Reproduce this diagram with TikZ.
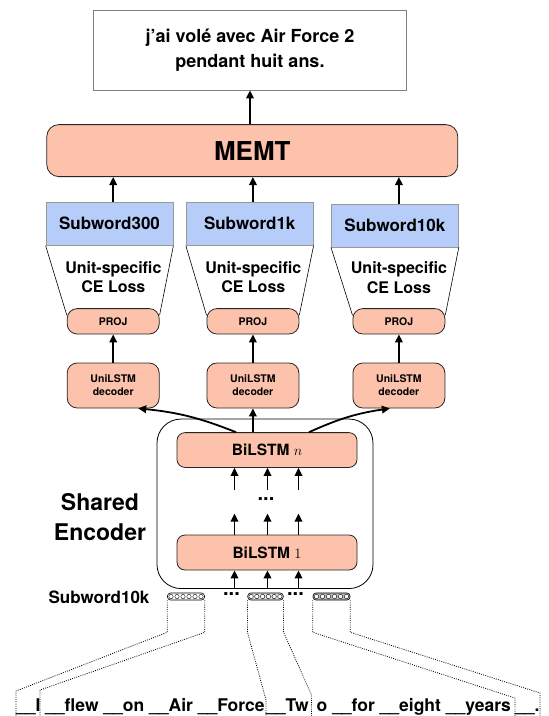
\documentclass[tikz,border=0pt]{standalone}
\usepackage{fontspec}
\setmainfont{TeX Gyre Heros}
\usetikzlibrary{arrows.meta,calc}

\definecolor{salmon}{RGB}{252,194,172}
\definecolor{unitblue}{RGB}{182,205,250}

\tikzset{
  salbox/.style={draw=black!85, fill=salmon, line width=0.8pt, rounded corners=8pt, align=center},
  unitbox/.style={draw=black!40, fill=unitblue, line width=0.8pt, minimum width=127pt, minimum height=43pt,
    font=\fontsize{17}{20}\bfseries\selectfont},
  arr/.style={-{Triangle[length=8pt,width=7.5pt]}, line width=1.8pt},
  guide/.style={dash pattern=on 0.9pt off 1.3pt, line width=0.8pt}
}

\begin{document}
\begin{tikzpicture}[x=1pt, y=-1pt, every node/.style={font=\bfseries}]
  \useasboundingbox (0,0) rectangle (549,716);

  % Output sentence and MEMT
  \node[draw=black!50, line width=0.8pt, minimum width=313pt, minimum height=80pt, align=center,
    font=\fontsize{18}{25}\bfseries\selectfont] (out) at (250,50) {j'ai volé avec Air Force 2\\pendant huit ans.};
  \node[salbox, rounded corners=12pt, minimum width=411pt, minimum height=52pt,
    font=\fontsize{26}{30}\bfseries\selectfont] (memt) at (252.3,150.6) {MEMT};
  \draw[arr] (memt.north -| out.south) -- (out.south);

  % Decoder columns
  \foreach \n/\bx/\by/\px/\lbl in {a/109.5/223.7/113.2/Subword300, b/249.7/223.7/252.9/Subword1k, c/394.9/225.5/398.9/Subword10k} {
    \node[unitbox] (s\n) at (\bx,\by) {\lbl};
    \node[salbox, minimum width=92pt, minimum height=25.4pt, rounded corners=10pt,
      font=\fontsize{10.5}{12}\bfseries\selectfont] (p\n) at (\px,321.3) {PROJ};
    \node[salbox, minimum width=92pt, minimum height=45pt, rounded corners=10pt,
      font=\fontsize{10.5}{13}\bfseries\selectfont] (d\n) at (\px,385.5) {UniLSTM\\decoder};
    \node[align=center, font=\fontsize{16}{19.5}\bfseries\selectfont] (u\n) at ($(s\n.south)!0.5!(p\n.north)+(2,0)$) {Unit-specific\\CE Loss};
    \draw[line width=0.6pt] (s\n.south west) -- ([yshift=-7pt]p\n.north west);
    \draw[line width=0.6pt] (s\n.south east) -- ([yshift=-7pt]p\n.north east);
    \draw[arr] (d\n) -- (p\n);
    \draw[arr] (p\n |- s\n.north) -- (p\n |- memt.south);
  }

  % Shared encoder
  \node[draw, line width=0.8pt, rounded corners=24pt, minimum width=216pt, minimum height=169.5pt] (enc) at (265,503.8) {};
  \node[salbox, minimum width=180pt, minimum height=34.8pt, font=\fontsize{15.5}{18}\bfseries\selectfont] (bn) at (267,450) {BiLSTM $n$};
  \node[salbox, minimum width=180pt, minimum height=35pt, font=\fontsize{15.5}{18}\bfseries\selectfont] (b1) at (267,552.5) {BiLSTM $1$};
  \node[font=\fontsize{20}{20}\bfseries\selectfont] (vdots) at (266,499) {...};
  \node[align=center, font=\fontsize{23}{30}\bfseries\selectfont] (shared) at (100,517) {Shared\\Encoder};

  \foreach \i/\dx in {1/-32.5, 2/0.5, 3/31.5} {
    \coordinate (t\i) at ($(b1.south)+(\dx,0)$);
    \coordinate (u\i) at ($(bn.south)+(\dx,0)$);
    \draw[arr] (t\i |- enc.south) -- (t\i);
    \draw[arr] ($(b1.north)+(\dx,0)$) -- ++(0,-21);
    \draw[arr] ($(u\i)+(0,22)$) -- (u\i);
  }

  % Encoder to decoders
  \draw[arr] ([xshift=-31pt]bn.north) to[bend right=8] ([xshift=25pt]da.south);
  \draw[arr] (db.south |- bn.north) -- (db.south);
  \draw[arr] ([xshift=42pt]bn.north) to[bend left=8] ([xshift=-9pt]dc.south);

  % Input embeddings
  \node[font=\fontsize{17}{20}\bfseries\selectfont] (inlbl) at (99,597.5) {Subword10k};
  \foreach \n/\x/\w/\f in {1/186/37/white, 2/265.5/35.5/gray!25, 3/331.5/37/gray!55} {
    \node[draw, line width=0.6pt, rounded corners=3pt, minimum width=\w pt, minimum height=7pt, inner sep=0pt, fill=\f] (v\n) at (\x,596.5) {};
    \foreach \k in {-15,-9,-3,3,9,15}
      \draw[line width=0.4pt, fill=white] ($(v\n.center)+(\k*\w/37,0)$) circle (2.2pt);
  }
  \node[font=\fontsize{20}{20}\bfseries\selectfont] (gap1) at (231.5,594) {...};
  \node[font=\fontsize{20}{20}\bfseries\selectfont] (gap2) at (295.5,594) {...};

  % Subword segmentation of the source sentence
  \foreach \n/\x/\t in {1/16/{\_\_I}, 2/45/{\_\_flew \_\_on \_\_Air \_\_Force}, 3/266/{\_\_Tw}, 4/316.5/{o \_\_for \_\_eight \_\_years}, 5/515/{\_\_.}}
    \node[anchor=base west, inner sep=0pt, font=\fontsize{17.5}{20}\bfseries\selectfont] (w\n) at (\x,711.5) {\t};

  \foreach \a/\bx/\by in {v1.south west/16/691, v1.south east/40/690, v2.south west/266/700,
                          v2.south east/311.5/695, v3.south west/515/698, v3.south east/540/693}
    \draw[guide] (\a) -- ++(0,32) -- (\bx,\by) -- (\bx,716);
\end{tikzpicture}
\end{document}
